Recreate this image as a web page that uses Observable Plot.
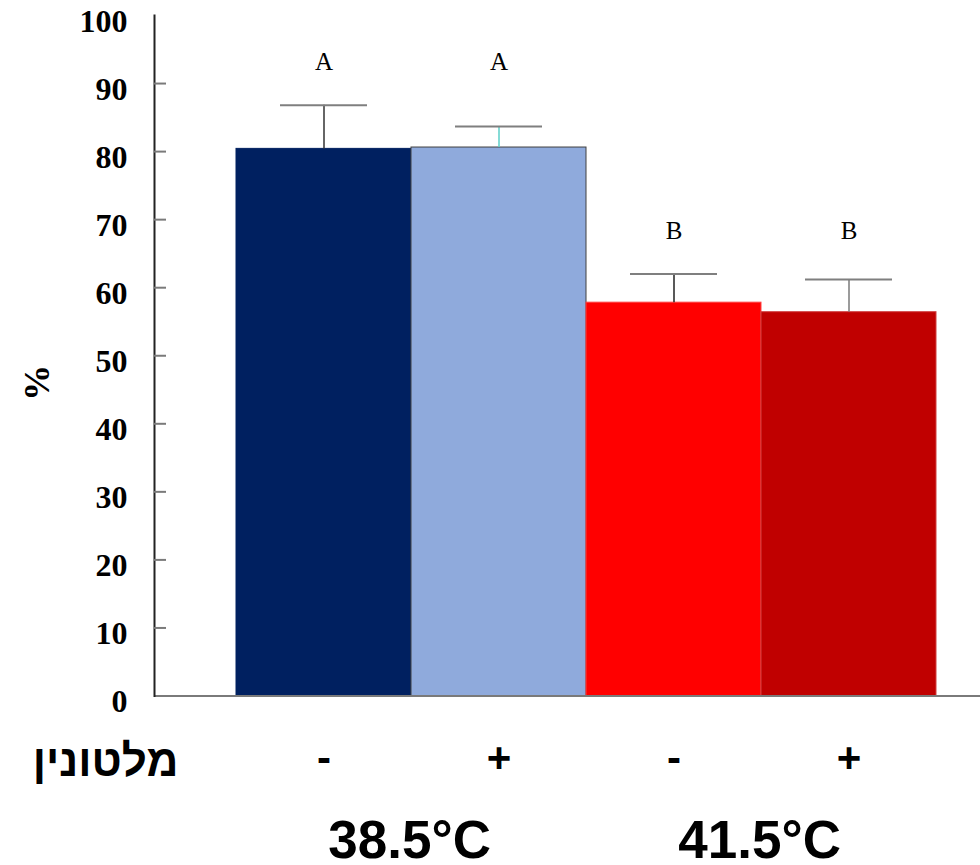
<!DOCTYPE html>
<html>
<head>
<meta charset="utf-8">
<script src="https://cdn.jsdelivr.net/npm/d3@7"></script>
<script src="https://cdn.jsdelivr.net/npm/@observablehq/plot@0.6"></script>
<style>
  body { margin: 0; background: #fff; }
</style>
</head>
<body>
<div id="chart"></div>
<script>
// Percentage per treatment: temperature x melatonin (- / +), mean and top of error bar
const barKeys = ["t385_minus", "t385_plus", "t415_minus", "t415_plus"];
const melatonin = ["-", "+", "-", "+"];
const temperature = ["38.5°C", "38.5°C", "41.5°C", "41.5°C"];
const means = [80.4, 80.6, 57.8, 56.4];
const errorTops = [86.8, 83.7, 62.0, 61.2];
const letters = ["A", "A", "B", "B"];
const yTicks = [0, 10, 20, 30, 40, 50, 60, 70, 80, 90, 100];
const innerTicks = [10, 20, 30, 40, 50, 60, 70, 80, 90];
const groupLabels = ["38.5°C", "41.5°C"];
const groupFirstBar = ["t385_minus", "t415_minus"];
const xTitle = "מלטונין";
const yTitle = "%";

// Styling per bar
const barFill = ["#002060", "#8faadc", "#ff0000", "#c00000"];
const barEdge = ["#002060", "#404040", "#ff4040", "#d04040"];
const stemColor = ["#333333", "#5ccfc8", "#222222", "#7a7a7a"];

// letters of a temperature group sit at a common height above the group's tallest error bar
const groupTop = {};
temperature.forEach((t, i) => { groupTop[t] = Math.max(groupTop[t] ?? 0, errorTops[i]); });

const rows = barKeys.map((key, i) => ({
  key,
  sign: melatonin[i],
  temp: temperature[i],
  mean: means[i],
  top: errorTops[i],
  letterY: groupTop[temperature[i]],
  letter: letters[i],
  fill: barFill[i],
  edge: barEdge[i],
  stem: stemColor[i]
}));
const groups = groupLabels.map((label, i) => ({label, first: groupFirstBar[i]}));
const signOf = Object.fromEntries(rows.map(r => [r.key, r.sign]));

const serif = "'Liberation Serif', 'Times New Roman', serif";
const sans = "'Liberation Sans', Arial, 'DejaVu Sans', sans-serif";
const halfBand = (936 - 235) / 4 / 2;

const chart = Plot.plot({
  width: 980,
  height: 865,
  marginLeft: 154,
  marginRight: 0,
  marginTop: 15,
  marginBottom: 169.5,
  style: {background: "#fff", overflow: "visible"},
  x: {type: "band", domain: barKeys, range: [235, 936], padding: 0},
  y: {domain: [0, 100]},
  color: {type: "identity"},
  marks: [
    // bars
    Plot.barY(rows, {x: "key", y: "mean", fill: "fill", stroke: "edge", strokeWidth: 1}),
    // error bars: stem and cap
    Plot.ruleX(rows, {x: "key", y1: "mean", y2: "top", stroke: "stem", strokeWidth: 1.5}),
    Plot.tickY(rows, {x: "key", y: "top", inset: 44, stroke: "#7f7f7f", strokeWidth: 2}),
    // significance letters
    Plot.text(rows, {
      x: "key", y: "letterY", text: "letter", dy: -35, lineAnchor: "bottom",
      fontFamily: serif, fontSize: 25, fill: "#000"
    }),
    // axes lines and inward ticks
    Plot.ruleY([0], {stroke: "#7a7a7a", strokeWidth: 2}),
    Plot.frame({anchor: "left", stroke: "#222", strokeWidth: 2}),
    Plot.ruleY(innerTicks, {insetRight: 980 - 166, stroke: "#7a7a7a", strokeWidth: 2}),
    Plot.axisY({
      ticks: yTicks, tickSize: 0, tickPadding: 27, dy: 6, label: null,
      fontFamily: serif, fontSize: 32, fontWeight: "bold", fill: "#000"
    }),
    Plot.axisX({
      tickSize: 0, tickPadding: 46, label: null, tickFormat: k => signOf[k],
      fontFamily: sans, fontSize: 42, fontWeight: "bold", fill: "#000"
    }),
    // temperature group labels, centred between the two bars of each group
    Plot.text(groups, {
      x: "first", text: "label", frameAnchor: "bottom", dx: halfBand - 2, dy: 162,
      lineAnchor: "bottom", fontFamily: sans, fontSize: 53, fontWeight: "bold", fill: "#000"
    }),
    // axis titles
    Plot.text([xTitle], {
      frameAnchor: "bottom-left", dx: -49, dy: 79.5, lineAnchor: "bottom", textAnchor: "middle",
      fontFamily: sans, fontSize: 44, fontWeight: "bold", fill: "#000"
    }),
    Plot.text([yTitle], {
      frameAnchor: "left", dx: -117, dy: 27, rotate: -90, textAnchor: "middle",
      fontFamily: serif, fontSize: 36, fontWeight: "bold", fill: "#000"
    })
  ]
});

document.getElementById("chart").appendChild(chart);
</script>
</body>
</html>
